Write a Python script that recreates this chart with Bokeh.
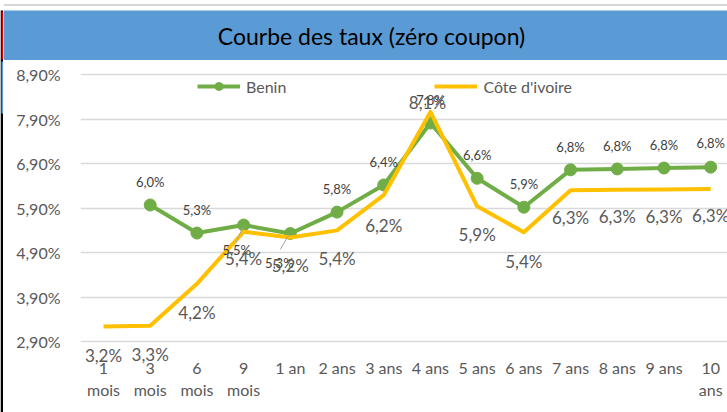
import math
from bokeh.plotting import figure
from bokeh.layouts import column, row
from bokeh.models import (ColumnDataSource, FixedTicker, CustomJSTickFormatter,
                          Legend, LegendItem, Range1d, Label, LabelSet)
from bokeh.core.properties import value
from bokeh.embed import file_html
from bokeh.resources import INLINE

nan = float("nan")

# ---- data -------------------------------------------------------------
title_text = "Courbe des taux (zéro coupon)"
maturities = ["1 mois", "3 mois", "6 mois", "9 mois", "1 an", "2 ans", "3 ans",
              "4 ans", "5 ans", "6 ans", "7 ans", "8 ans", "9 ans", "10 ans"]
tick_labels = ["1\nmois", "3\nmois", "6\nmois", "9\nmois", "1 an", "2 ans", "3 ans",
               "4 ans", "5 ans", "6 ans", "7 ans", "8 ans", "9 ans", "10\nans"]
benin = [nan, 5.97, 5.34, 5.52, 5.33, 5.81, 6.42, 7.81, 6.57, 5.92, 6.76, 6.78, 6.80, 6.82]
cote = [3.24, 3.26, 4.20, 5.37, 5.24, 5.40, 6.19, 8.06, 5.94, 5.36, 6.30, 6.31, 6.32, 6.33]
y_ticks = [2.9, 3.9, 4.9, 5.9, 6.9, 7.9, 8.9]
series_names = ["Benin", "Côte d'ivoire"]

# ---- label placement (screen px, positive = down) --------------------
benin_dx = [0, 0, 0, -7, -11, 0, 0, 0, 0, 0, 0, 0, 0, 0]
benin_dy = [-23, -23, -23, 25, 30, -23, -23, -23, -23, -23, -23, -23, -23, -24]
cote_dx = [0, 0, 0, 0, 0, 0, 0, -3, 0, 0, 0, 0, 0, 0]
cote_dy = [29, 29, 29, 27, 28, 28, 30, -9, 28, 29, 27, 27, 27, 27]
# leader lines for displaced Benin labels: index, start (dx,dy), end (dx,dy) in px
leaders = [(3, (-1, 3), (-8, 18)), (4, (-2, 2), (-10, 16))]

GREEN = "#70AD47"
GOLD = "#FFC000"
BLUE = "#5B9BD5"
FONT = "Lato"

FRAME_W, FRAME_H = 647, 313
PX_Y = 44.53
X0, X1 = -0.4925, 13.36
Y1 = 9.17
Y0 = Y1 - FRAME_H / PX_Y
PX_X = FRAME_W / (X1 - X0)


def fmt(v):
    if v != v:
        return ""
    return f"{v:.1f}".replace(".", ",") + "%"


x = list(range(len(maturities)))
src = ColumnDataSource(dict(
    x=x, benin=benin, cote=cote,
    benin_lbl=[fmt(v) for v in benin], cote_lbl=[fmt(v) for v in cote],
    bdx=benin_dx, bdy=benin_dy, cdx=cote_dx, cdy=cote_dy,
))

# ---- left border strip -------------------------------------------------
s = figure(width=3, height=412, x_range=Range1d(0, 3), y_range=Range1d(0, 412),
           output_backend="svg", toolbar_location=None,
           x_axis_location=None, y_axis_location=None,
           min_border_left=0, min_border_right=0, min_border_top=0, min_border_bottom=0,
           background_fill_color="white", border_fill_color="white", outline_line_color=None)
s.grid.visible = False
s.frame_align = False
s.quad(left=[0], right=[3], bottom=[0], top=[402], fill_color="black", line_color=None)
s.quad(left=[1], right=[3], bottom=[353], top=[401], fill_color="#E00000", line_color=None)
s.quad(left=[1], right=[3], bottom=[299], top=[351], fill_color=BLUE, line_color=None)

# ---- title band -------------------------------------------------------
t = figure(width=724, height=60, x_range=Range1d(0, 724), y_range=Range1d(0, 60),
           output_backend="svg", toolbar_location=None,
           x_axis_location=None, y_axis_location=None,
           min_border_left=0, min_border_right=0, min_border_top=0, min_border_bottom=0,
           background_fill_color="white", border_fill_color="white", outline_line_color=None)
t.grid.visible = False
t.frame_align = False
t.quad(left=[0], right=[724], bottom=[0], top=[50], fill_color=BLUE, line_color=None)
t.segment(x0=[0], y0=[55.5], x1=[724], y1=[55.5], line_color="#C8C8C8", line_width=1.5)
t.add_layout(Label(x=368, y=25, text=title_text, text_align="center",
                   text_baseline="middle", text_font=FONT, text_font_size="23px",
                   text_color="#000000"))

# ---- main chart -------------------------------------------------------
p = figure(width=724, height=352, x_range=Range1d(X0, X1), y_range=Range1d(Y0, Y1),
           output_backend="svg", toolbar_location=None,
           min_border_left=77, min_border_right=0, min_border_top=2,
           min_border_bottom=352 - 2 - FRAME_H,
           background_fill_color="white", border_fill_color="white", outline_line_color=None)
p.frame_align = False

p.xgrid.visible = False
p.ygrid.ticker = FixedTicker(ticks=y_ticks)
p.ygrid.grid_line_color = "#D9D9D9"
p.ygrid.grid_line_width = 1.5

p.yaxis.ticker = FixedTicker(ticks=y_ticks)
p.yaxis.formatter = CustomJSTickFormatter(code="return tick.toFixed(2).replace('.', ',') + '%';")
p.xaxis.ticker = FixedTicker(ticks=x)
p.xaxis.major_label_overrides = {i: lab for i, lab in enumerate(tick_labels)}
for ax in (p.xaxis, p.yaxis):
    ax.axis_line_color = None
    ax.major_tick_line_color = None
    ax.minor_tick_line_color = None
    ax.major_label_text_font = FONT
    ax.major_label_text_font_size = "16px"
    ax.major_label_text_color = "#595959"
p.yaxis.major_label_standoff = 14
p.xaxis.major_label_standoff = -24

rb = p.line("x", "benin", source=src, line_color=GREEN, line_width=4, line_join="round")
rbm = p.scatter("x", "benin", source=src, size=12, fill_color=GREEN, line_color=GREEN)
rc = p.line("x", "cote", source=src, line_color=GOLD, line_width=4, line_join="round")

# leader lines (derived from data points plus pixel offsets)
lx0 = [i + a[0] / PX_X for i, a, b in leaders]
ly0 = [benin[i] - a[1] / PX_Y for i, a, b in leaders]
lx1 = [i + b[0] / PX_X for i, a, b in leaders]
ly1 = [benin[i] - b[1] / PX_Y for i, a, b in leaders]
p.segment(x0=lx0, y0=ly0, x1=lx1, y1=ly1, line_color="#A6A6A6", line_width=1)

p.text("x", "benin", text="benin_lbl", source=src, x_offset="bdx", y_offset="bdy",
       text_align="center", text_baseline="middle", text_font=value(FONT),
       text_font_size="13px", text_color="#404040")
p.text("x", "cote", text="cote_lbl", source=src, x_offset="cdx", y_offset="cdy",
       text_align="center", text_baseline="middle", text_font=value(FONT),
       text_font_size="17px", text_color="#595959")

legend = Legend(items=[LegendItem(label=series_names[0], renderers=[rb, rbm]),
                       LegendItem(label=series_names[1], renderers=[rc])],
                orientation="horizontal", location=(117, FRAME_H - 34), spacing=148,
                padding=0, margin=0, border_line_color=None, background_fill_alpha=0,
                glyph_width=43, label_standoff=6, label_text_font=FONT,
                label_text_font_size="16px", label_text_color="#595959")
p.add_layout(legend)

layout = row(s, column(t, p, spacing=0), spacing=0)
open("out.html", "w").write(file_html(layout, INLINE))
